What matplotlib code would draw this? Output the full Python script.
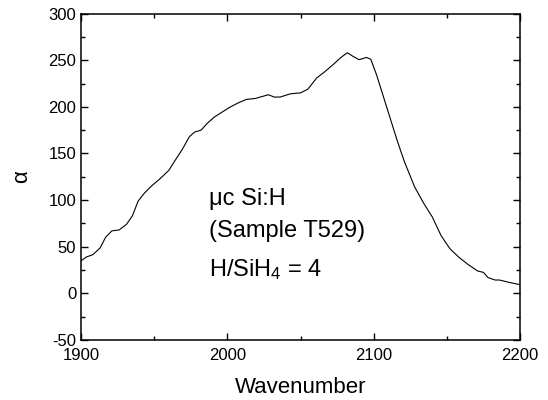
import matplotlib.pyplot as plt
from matplotlib.ticker import MultipleLocator

wavenumber = [1900, 1903.6, 1908, 1913, 1916.7, 1921, 1926, 1931, 1935, 1939,
              1943, 1948, 1954, 1960, 1964, 1969, 1974, 1977.6, 1982, 1986,
              1991, 1995, 2001, 2007, 2013, 2019, 2028, 2032, 2036, 2043,
              2050, 2055, 2061, 2066, 2072, 2078, 2082, 2086, 2090, 2095,
              2098, 2102, 2106, 2111, 2116, 2121, 2128, 2134, 2140, 2146,
              2152, 2158, 2164, 2171, 2175, 2178, 2183, 2186, 2192, 2200]
alpha = [35, 39, 41.5, 48.7, 60, 67, 68, 74, 83, 99,
         107, 115, 123, 132, 142, 154, 168, 173, 175, 182,
         189, 193, 199, 204, 208, 209, 213, 210.5, 210.5, 214,
         215, 219, 231, 237, 245, 253.5, 258, 254, 250.6, 253,
         251, 234, 214, 189, 164, 141, 114, 97, 82, 62,
         48, 39, 31.5, 24, 22.5, 17, 14.3, 14.3, 12, 9.3]

labels = ["\u03bcc Si:H", "(Sample T529)", "H/SiH$_4$ = 4"]

plt.rcParams["font.family"] = ["Liberation Sans", "DejaVu Sans"]
plt.rcParams["mathtext.fontset"] = "custom"
plt.rcParams["mathtext.rm"] = "Liberation Sans"
plt.rcParams["mathtext.it"] = "Liberation Sans"
plt.rcParams["axes.unicode_minus"] = False

fig = plt.figure(figsize=(5.48, 4), dpi=100)
ax = fig.add_axes([0.148, 0.15, 0.801, 0.816])
ax.plot(wavenumber, alpha, color="black", lw=0.8)

ax.set_xlim(1900, 2200)
ax.set_ylim(-50, 300)
ax.xaxis.set_major_locator(MultipleLocator(100))
ax.xaxis.set_minor_locator(MultipleLocator(50))
ax.yaxis.set_major_locator(MultipleLocator(50))
ax.yaxis.set_minor_locator(MultipleLocator(25))
ax.tick_params(which="both", direction="in", top=True, right=True,
               width=1, labelsize=12, colors="black")
ax.tick_params(which="major", length=5)
ax.tick_params(which="minor", length=3)
ax.tick_params(axis="x", pad=6)
for s in ax.spines.values():
    s.set_linewidth(1.1)

ax.set_xlabel("Wavenumber", fontsize=16, labelpad=10)
ax.set_ylabel("\u03b1", fontsize=16, labelpad=12)

for lab, y in zip(labels, [95, 60, 19]):
    ax.text(1987.5, y, lab, fontsize=17, va="baseline", ha="left")

fig.savefig("out.png", dpi=100)
